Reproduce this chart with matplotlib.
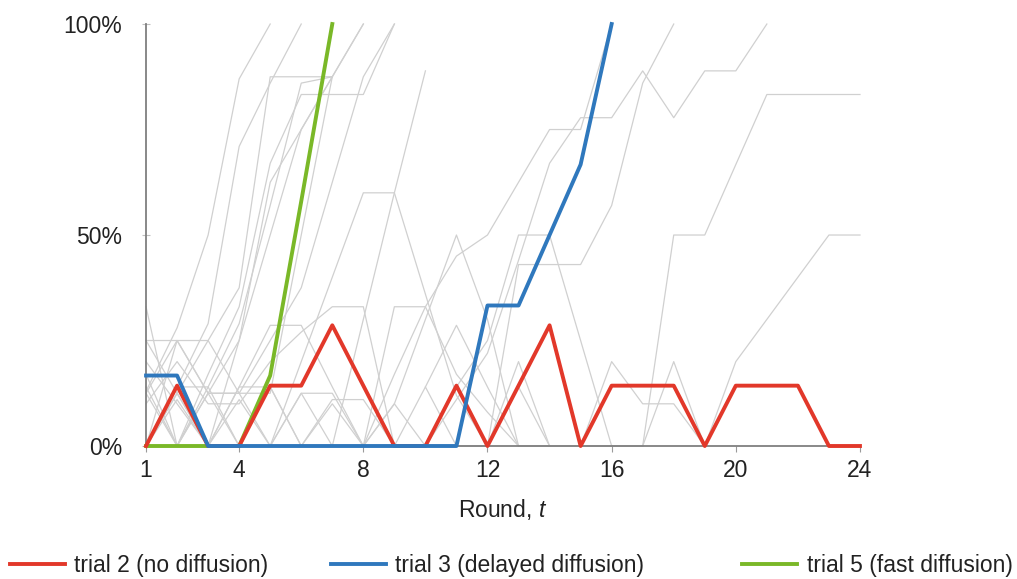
import matplotlib
matplotlib.use("Agg")
import matplotlib.pyplot as plt
import numpy as np

plt.rcParams['font.family'] = ['Liberation Sans', 'DejaVu Sans']
plt.rcParams['mathtext.fontset'] = 'custom'
plt.rcParams['mathtext.rm'] = 'Liberation Sans'
plt.rcParams['mathtext.it'] = 'Liberation Sans:italic'

# share of adopters (%) per round, highlighted trials
trial2 = [0, 14.3, 0, 0, 14.3, 14.3, 28.6, 14.3, 0, 0, 14.3, 0,
          14.3, 28.6, 0, 14.3, 14.3, 14.3, 0, 14.3, 14.3, 14.3, 0, 0]
trial3 = [16.7, 16.7, 0, 0, 0, 0, 0, 0, 0, 0, 0, 33.3, 33.3, 50, 66.7, 100]
trial5 = [0, 0, 0, 0, 16.7, 58, 100]

# other trials in grey: (first round, values)
grey_trials = [
    (1, [33, 0, 14, 29, 57, 86, 87.5]),
    (1, [25, 25, 25, 12.5, 12.5, 50, 87.5, 100]),
    (1, [13, 28, 50, 87, 100]),
    (1, [0, 14, 29, 71, 86, 100]),
    (1, [17, 0, 17, 33, 67, 83.3, 83.3, 83.3, 100]),
    (1, [0, 0, 12.5, 25, 50, 75, 87.5, 100]),
    (1, [12.5, 0, 12.5, 12.5, 25, 37.5, 62.5, 87.5, 100]),
    (1, [25, 12.5, 25, 37.5, 87.5, 87.5, 87.5]),
    (1, [0, 12.5, 0, 25, 62.5, 75, 87.5]),
    (1, [14, 0, 0, 14, 14, 0, 0, 30, 60, 88.9]),
    (1, [0, 25, 12.5, 12.5, 0, 20, 40, 60, 60, 36, 12, 0]),
    (1, [10, 20, 10, 10, 20, 27, 33, 33, 0, 0]),
    (1, [20, 10, 0, 14, 28.6, 28.6, 14, 0, 33, 33, 17, 8, 0]),
    (1, [0, 14, 14, 0, 14, 0, 10, 0, 10, 30, 50, 30, 0, 0]),
    (1, [12.5, 25, 12.5, 0, 0, 12.5, 12.5, 0, 17, 33, 45, 50, 62.5, 75, 75, 100]),
    (1, [0, 11, 0, 11, 0, 0, 11, 11, 0, 0, 11, 22, 44, 67, 77.8, 77.8,
         88.9, 77.8, 88.9, 88.9, 100]),
    (1, [0, 12.5, 0, 0, 0, 12.5, 0, 0, 0, 0, 0, 0, 43, 43, 43, 57, 86, 100]),
    (8, [0, 10, 0, 14, 25, 50, 50, 25, 0, 0]),
    (10, [14, 28.6, 14, 0, 0, 0, 20, 10, 10, 0]),
    (9, [0, 14, 0, 0, 14, 0, 0, 0, 0, 50, 50, 66.7, 83.3, 83.3, 83.3, 83.3]),
    (12, [0, 20, 0, 0, 0, 0, 20, 0, 20, 30, 40, 50, 50]),
]

fs = 16.5

fig = plt.figure(figsize=(10.17, 5.79), dpi=100)
ax = fig.add_axes([0.1436, 0.2297, 0.702, 0.7288])

for start, vals in grey_trials:
    rounds = np.arange(start, start + len(vals))
    ax.plot(rounds, vals, color='#d0d0d0', lw=0.9, zorder=1, clip_on=False)

ax.plot(np.arange(1, len(trial5) + 1), trial5, color='#7ab828', lw=2.8,
        zorder=3, clip_on=False, label='trial 5 (fast diffusion)')
ax.plot(np.arange(1, len(trial2) + 1), trial2, color='#e2382a', lw=2.8,
        zorder=4, clip_on=False, label='trial 2 (no diffusion)')
ax.plot(np.arange(1, len(trial3) + 1), trial3, color='#2f78bd', lw=2.8,
        zorder=5, clip_on=False, label='trial 3 (delayed diffusion)')

ax.set_xlim(1, 24)
ax.set_ylim(0, 100)
ax.set_xticks([1, 4, 8, 12, 16, 20, 24])
ax.set_yticks([0, 50, 100])
ax.set_yticklabels(['0%', '50%', '100%'])

for s in ['top', 'right']:
    ax.spines[s].set_visible(False)
for s in ['left', 'bottom']:
    ax.spines[s].set_color('#7f7f7f')
    ax.spines[s].set_linewidth(1.3)
    ax.spines[s].set_zorder(2)

ax.tick_params(axis='x', direction='out', length=4, color='#9a9a9a',
               labelsize=fs, pad=5, labelcolor='#222222')
ax.tick_params(axis='y', direction='inout', length=6, color='#c0c0c0',
               labelsize=fs, pad=14, labelcolor='#222222')
ax.set_xlabel('Round, $t$', fontsize=fs, color='#222222', labelpad=11)

handles, labels = ax.get_legend_handles_labels()
order = {'trial 2 (no diffusion)': 0.010,
         'trial 3 (delayed diffusion)': 0.325,
         'trial 5 (fast diffusion)': 0.730}
for h, l in zip(handles, labels):
    leg = fig.legend([h], [l], loc='center left', bbox_to_anchor=(order[l], 0.024),
                     frameon=False, fontsize=fs, handlelength=2.4,
                     handletextpad=0.4, borderpad=0, borderaxespad=0)
    for t in leg.get_texts():
        t.set_color('#222222')

fig.savefig('out.png', dpi=100)
